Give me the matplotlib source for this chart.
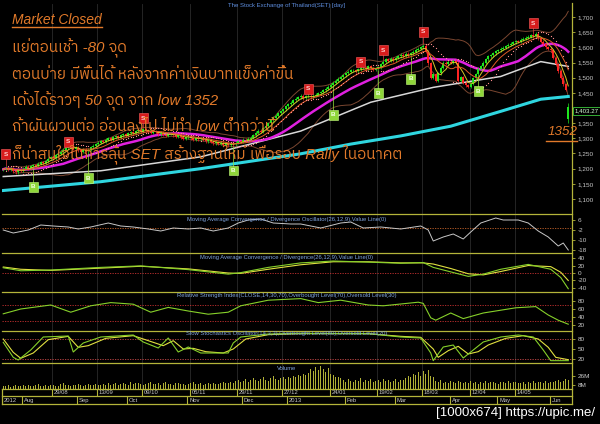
import numpy as np
import pandas as pd
import matplotlib
matplotlib.use("Agg")
import matplotlib.pyplot as plt
from matplotlib.lines import Line2D
from matplotlib import font_manager as fm
from matplotlib.ft2font import FT2Font

# ---------------- data ----------------
closes = [
    1198, 1203, 1196, 1201, 1192, 1188, 1197, 1194,
    1199, 1206, 1201, 1208,
    1212, 1209, 1216, 1221, 1218, 1224,
    1232, 1238, 1235, 1244, 1249, 1256,
    1262, 1268, 1276,
    1271, 1265, 1269, 1260, 1255, 1262, 1258, 1263,
    1270, 1275, 1281, 1286, 1291,
    1288, 1295, 1300, 1296, 1303, 1307, 1302, 1310,
    1314, 1309, 1316, 1320, 1317, 1323, 1326, 1321, 1330,
    1327, 1322, 1318, 1324, 1320, 1314, 1318, 1312, 1308, 1315, 1316,
    1311, 1306, 1310, 1304, 1299, 1303, 1307, 1301, 1296, 1300, 1297, 1301,
    1295, 1290, 1294, 1288, 1283, 1287, 1282, 1285, 1279, 1284, 1277, 1282, 1280,
    1286, 1291, 1288, 1295, 1293, 1299, 1302,
    1310, 1318, 1325, 1322, 1333, 1341, 1350, 1360,
    1368, 1375, 1383, 1390, 1396, 1405,
    1412, 1418, 1425, 1430, 1436, 1440,
    1432, 1438, 1440, 1436, 1441, 1443, 1449, 1452,
    1458, 1464, 1470, 1477, 1483, 1490,
    1496, 1502, 1508, 1514, 1519, 1525,
    1525, 1522, 1528, 1532,
    1533, 1528, 1537, 1531, 1526, 1530, 1535,
    1545, 1552, 1560,
    1556, 1562, 1558, 1566, 1570, 1575,
    1571, 1578, 1574, 1580,
    1586, 1592, 1596, 1601, 1605,
    1585, 1548, 1500, 1512, 1490,
    1515, 1532, 1550,
    1546, 1553, 1549, 1555, 1550,
    1490, 1502, 1483, 1475, 1470, 1480,
    1498, 1512, 1530,
    1538, 1550, 1561, 1570,
    1574, 1581, 1587, 1590, 1595,
    1599, 1603, 1608, 1612, 1617, 1620,
    1618, 1625, 1629, 1632, 1635,
    1640, 1637, 1645,
    1630, 1618, 1610,
    1600, 1596, 1590,
    1565, 1545, 1522,
    1500, 1478, 1460,
    1403.27,
]
last_open, last_high, last_low = 1365.0, 1418.0, 1352.0

volumes = [
    7, 6, 8, 5, 6, 9, 7, 6, 8, 7, 9, 6, 7, 8, 10, 7, 6, 8, 7, 9, 8, 7, 6, 10,
    12, 9, 8, 7, 9, 8, 10, 8, 7, 9, 11, 8, 9, 10, 8, 9,
    10, 9, 12, 8, 11, 13, 9, 10, 12, 11, 9, 14, 10, 12, 13, 11, 9, 10, 12, 15,
    11, 10, 13, 9, 12, 14, 10, 11, 9, 13, 12, 10, 11, 9, 10, 12, 14, 11, 10, 13,
    9, 11, 12, 10, 13, 11, 10, 12, 14, 12,
    13, 15, 12, 16, 18, 14, 17, 20, 15, 19, 22, 18, 16, 21, 24, 19, 17, 23, 26, 20, 18, 22, 25,
    20, 24, 22, 26, 25, 28, 27, 30, 29, 33, 40, 36, 44, 38, 46, 41, 35, 42, 30, 28, 25, 24, 22,
    18, 15, 20, 16, 14, 19, 17, 22, 15, 18, 16, 20, 14, 17, 19, 15, 21, 16, 18, 14, 17, 20, 15, 19, 18,
    22, 26, 24, 30, 28, 34, 27, 36, 30, 38, 26, 24,
    16, 14, 18, 12, 15, 13, 17, 14, 12, 16, 15, 13, 14, 12, 16, 13, 15, 11, 14, 13, 16, 12, 15, 14,
    13, 11, 15, 14, 12, 16, 13, 15, 14, 12, 13, 15, 11, 14, 12, 16, 13, 15, 14, 12, 17, 13, 15, 14,
    16, 18, 15, 17, 20, 19,
]

# long moving averages
ma_white_idx = [0, 39, 79, 119, 147, 172, 199, 215, 226]
ma_white_val = [1174, 1193, 1239, 1324, 1419, 1468, 1504, 1553, 1537]
ma_cyan_idx = [0, 39, 79, 119, 139, 159, 179, 199, 215, 226]
ma_cyan_val = [1128, 1157, 1200, 1249, 1281, 1308, 1340, 1389, 1429, 1438]

# signals
sell_idx = [1, 26, 56, 122, 143, 152, 168, 212]
sell_lvl = [1248, 1288, 1367, 1463, 1552, 1591, 1651, 1680]
buy_idx = [12, 34, 92, 132, 150, 163, 190]
buy_lvl = [1140, 1169, 1194, 1377, 1449, 1496, 1456]

# MACD oscillator
osc_idx = [0, 4, 10, 15, 20, 26, 30, 35, 42, 47, 52, 58, 63, 68, 74, 79, 84, 90, 94, 98,
           103, 108, 115, 119, 127, 135, 139, 144, 151, 159, 167, 170, 172, 176, 180, 184,
           187, 191, 197, 200, 206, 210, 214, 218, 222, 224, 226]
osc_val = [-2.0, -4.4, -2.0, 2.0, 1.2, 0.4, -1.2, 0.4, 3.6, 1.2, 0.4, -1.2, -2.8, -0.4, -1.2,
           -0.4, -2.8, -0.4, 3.6, 6.0, 6.8, 3.6, 2.8, 2.8, -0.4, 3.6, 4.4, -0.4, 0.4, -1.2,
           1.2, -2.0, -10.8, -7.6, -5.2, -9.2, -3.6, 3.6, 7.6, 6.0, 6.0, 3.6, -2.8, -7.6,
           -14.8, -12.4, -18.0]

# MACD and signal
macd_idx = [0, 7, 19, 39, 55, 74, 90, 95, 106, 119, 132, 146, 159, 168, 172, 179, 186, 192,
            199, 210, 219, 223, 226]
macd_val = [14, 6, 8, 15, 19, 9, -3, 1, 15, 27, 32, 29, 26, 28, 15, 3, -9, -3, 10, 23, 10, -12, -42]
sig_val = [16, 10, 7, 13, 18, 11, 0, -1, 10, 22, 30, 30, 27, 27, 24, 12, -2, -5, 4, 20, 17, 2, -20]

# RSI
rsi_idx = [0, 7, 19, 27, 35, 43, 52, 59, 66, 74, 82, 90, 95, 106, 119, 126, 135, 146, 152,
           166, 168, 171, 173, 179, 184, 192, 199, 205, 213, 218, 222, 226]
rsi_val = [48, 60, 70, 52, 68, 76, 72, 52, 64, 55, 47, 52, 68, 82, 86, 76, 82, 70, 68, 77, 74,
           38, 32, 50, 36, 50, 57, 63, 66, 45, 32, 22]

# Slow stochastics
stk_idx = [0, 4, 6, 11, 16, 26, 28, 32, 39, 52, 56, 62, 66, 70, 74, 79, 86, 90, 92, 95, 106,
           119, 146, 159, 167, 171, 172, 176, 180, 184, 188, 192, 199, 206, 212, 216, 219, 226]
stk_val = [70, 25, 17, 47, 86, 89, 41, 68, 86, 92, 71, 53, 83, 41, 56, 38, 38, 38, 68, 86, 95,
           97, 96, 86, 83, 38, 15, 56, 62, 23, 47, 71, 86, 92, 86, 47, 15, 15]
std_idx = [0, 4, 7, 12, 18, 26, 30, 34, 41, 52, 58, 64, 68, 72, 76, 81, 88, 92, 97, 106, 119,
           146, 159, 167, 172, 174, 178, 182, 186, 190, 194, 201, 208, 214, 218, 221, 226]
std_val = [80, 40, 22, 38, 78, 88, 55, 60, 82, 90, 75, 60, 75, 50, 52, 42, 38, 50, 80, 93, 96,
           96, 88, 85, 50, 25, 45, 58, 35, 42, 62, 82, 90, 80, 55, 25, 18]

# date axis
date_idx = [20, 38, 56, 75, 94, 112, 131, 150, 168, 187, 205]
date_lbl = ["29/08", "13/09", "09/10", "05/11", "29/11", "27/12", "24/01", "19/02", "18/03",
            "12/04", "14/05"]
month_idx = [0, 8, 30, 50, 74, 96, 114, 137, 157, 179, 198, 219]
month_lbl = ["2012", "Aug", "Sep", "Oct", "Nov", "Dec", "2013", "Feb", "Mar", "Apr", "May", "Jun"]

notes = [
    "แย่ตอนเช้า -80 จุด",
    "ตอนบ่าย มีพื้นได้ หลังจากค่าเงินบาทแข็งค่าขึ้น",
    "เด้งได้ราวๆ 50 จุด จาก low 1352",
    "ถ้าผันผวนต่อ อ่อนลงไป ไม่ทำ low ต่ำกว่านี้",
    "ก็น่าสนใจในการลุ้น SET สร้างฐานใหม่ เพื่อรอบ Rally ในอนาคต",
]

# ---------------- fonts ----------------
def find_thai():
    cands = sorted(fm.fontManager.ttflist,
                   key=lambda f: (0 if "thai" in f.name.lower() else 1, f.name))
    for f in cands:
        try:
            cm = FT2Font(f.fname).get_charmap()
        except Exception:
            continue
        if 0x0E01 in cm and 0x0E49 in cm and 0x0E35 in cm:
            return f.name
    return None

thai_font = find_thai()
plt.rcParams["font.family"] = ["Liberation Sans", "DejaVu Sans"]
plt.rcParams["axes.unicode_minus"] = False
thai_family = ["Liberation Sans"] + ([thai_font] if thai_font else []) + ["DejaVu Sans"]

# ---------------- styling ----------------
W, H = 600, 424
X0, X1 = 2, 572
OLIVE = "#b4b43a"
TICK = "#c8c8c8"
GRID = "#2b2b2b"
TITLE = "#7fa3dc"
ORANGE = "#e27a2a"
UPC, DNC = "#1ee61e", "#ff2424"

fig = plt.figure(figsize=(W / 100, H / 100), dpi=100, facecolor="black")
n = len(closes)
idx = np.arange(n)


def add_panel(top, bot):
    ax = fig.add_axes([X0 / W, 1 - bot / H, (X1 - X0) / W, (bot - top) / H])
    ax.set_facecolor("black")
    for s in ax.spines.values():
        s.set_visible(False)
    ax.set_xlim(-0.5, n + 0.5)
    ax.set_xticks([])
    ax.yaxis.tick_right()
    ax.tick_params(axis="y", color=OLIVE, labelcolor=TICK, length=2.5, width=0.6,
                   labelsize=4.6, pad=1.5)
    for g in date_idx:
        ax.axvline(g - 0.5, color=GRID, lw=0.6, zorder=0)
    return ax


def fline(xs, ys, **kw):
    fig.add_artist(Line2D([x / W for x in xs], [1 - y / H for y in ys],
                          transform=fig.transFigure, **kw))


# ---------------- main price panel ----------------
axm = add_panel(4, 214)
axm.set_ylim(1050.5, 1742.9)
pt = list(range(1100, 1701, 50))
axm.set_yticks(pt)
axm.set_yticklabels(["" if v == 1400 else f"{v:,}" for v in pt])

c = np.array(closes, dtype=float)
o = np.r_[c[0], c[:-1]]
o[-1] = last_open
up = c >= o
bh = np.maximum(o, c)
bl = np.minimum(o, c)
hi = bh + 5
lo = bl - 5
hi[-1] = last_high
lo[-1] = last_low
cols = np.where(up, UPC, DNC)

s = pd.Series(c)
mid = s.rolling(20, min_periods=5).mean()
sd = s.rolling(20, min_periods=5).std()
axm.plot(idx, mid + 2 * sd, color="#7a4630", lw=0.7, zorder=1)
axm.plot(idx, mid - 2 * sd, color="#7a4630", lw=0.7, zorder=1)
axm.plot(ma_cyan_idx, ma_cyan_val, color="#2fd6e0", lw=2.2, zorder=2)
axm.plot(ma_white_idx, ma_white_val, color="#d8d8d8", lw=1.1, zorder=2)
axm.plot(idx, s.rolling(25, min_periods=1).mean(), color="#e020e0", lw=1.8, zorder=2.5)

axm.vlines(idx, lo, hi, colors=cols, lw=0.5, zorder=3)
axm.bar(idx, np.maximum(bh - bl, 1.2), bottom=bl, width=0.62, color=cols, linewidth=0, zorder=3)

axm.plot(idx, s.rolling(5, min_periods=1).mean(), color="#d8c828", lw=0.7, zorder=4)
axm.plot(idx, s.rolling(10, min_periods=1).mean(), color="#e05a28", lw=0.7, zorder=4)


def psar(high, low, step=0.02, amax=0.2):
    m = len(high)
    out = np.zeros(m)
    bull, af, ep = True, step, high[0]
    out[0] = low[0]
    for t in range(1, m):
        p = out[t - 1]
        if bull:
            v = min(p + af * (ep - p), low[t - 1], low[max(t - 2, 0)])
            if low[t] < v:
                bull, v, ep, af = False, ep, low[t], step
            elif high[t] > ep:
                ep, af = high[t], min(af + step, amax)
        else:
            v = max(p + af * (ep - p), high[t - 1], high[max(t - 2, 0)])
            if high[t] > v:
                bull, v, ep, af = True, ep, high[t], step
            elif low[t] < ep:
                ep, af = low[t], min(af + step, amax)
        out[t] = v
    return out


axm.plot(idx[1:], psar(hi, lo)[1:], ls="none", marker="o", ms=0.9, color="#ff8f8f",
         markeredgewidth=0, zorder=4.5)

for i, lv in zip(sell_idx, sell_lvl):
    axm.vlines(i, hi[i], lv, colors="#e04040", lw=0.5, zorder=5)
    axm.text(i, lv, "S", fontsize=4.6, color="#ffd0d0", ha="center", va="center", zorder=6,
             fontweight="bold",
             bbox=dict(boxstyle="square,pad=0.35", fc="#d81c1c", ec="#ff6060", lw=0.4))
for i, lv in zip(buy_idx, buy_lvl):
    axm.vlines(i, lv, lo[i], colors="#9adf3c", lw=0.5, zorder=5)
    axm.text(i, lv, "B", fontsize=4.6, color="#f0ffe0", ha="center", va="center", zorder=6,
             fontweight="bold",
             bbox=dict(boxstyle="square,pad=0.35", fc="#8fd63a", ec="#c8ff80", lw=0.4))

# ---------------- MACD oscillator ----------------
axo = add_panel(214, 253)
axo.set_ylim(-20.4, 10.8)
axo.set_yticks([6, -2, -10, -18])
axo.axhline(0, color="#c8642a", lw=0.6, ls=(0, (1.5, 1.5)), zorder=1)
axo.plot(osc_idx, osc_val, color="#c8c8c8", lw=0.7, zorder=2)

# ---------------- MACD ----------------
axc = add_panel(253, 292)
axc.set_ylim(-50.7, 53.4)
axc.set_yticks([40, 20, 0, -20, -40])
axc.axhline(0, color="#c83232", lw=0.6, ls=(0, (1.5, 1.5)), zorder=1)
axc.plot(macd_idx, sig_val, color="#e0e040", lw=0.8, zorder=2)
axc.plot(macd_idx, macd_val, color="#86d02a", lw=0.8, zorder=3)

# ---------------- RSI ----------------
axr = add_panel(292, 331)
axr.set_ylim(5, 102.5)
axr.set_yticks([80, 60, 40, 20])
for lvl in (70, 30):
    axr.axhline(lvl, color="#c83232", lw=0.6, ls=(0, (1.5, 1.5)), zorder=1)
axr.plot(rsi_idx, rsi_val, color="#86d02a", lw=0.8, zorder=2)

# ---------------- Stochastics ----------------
axs = add_panel(331, 363)
axs.set_ylim(8, 104)
axs.set_yticks([80, 50, 20])
for lvl in (80, 20):
    axs.axhline(lvl, color="#c84848", lw=0.6, ls=(0, (1.5, 1.5)), zorder=1)
axs.plot(std_idx, std_val, color="#e0e040", lw=0.8, zorder=2)
axs.plot(stk_idx, stk_val, color="#86d02a", lw=0.8, zorder=3)

# ---------------- Volume ----------------
axv = add_panel(363, 389)
axv.set_ylim(0, 52)
axv.set_yticks([26, 8])
axv.set_yticklabels(["26M", "8M"])
axv.bar(idx, volumes, width=0.45, color="#b0b036", linewidth=0, zorder=2)

# ---------------- date axis ----------------
axd = fig.add_axes([X0 / W, 1 - 404 / H, (X1 - X0) / W, 15 / H])
axd.set_facecolor("black")
axd.set_xlim(-0.5, n + 0.5)
axd.set_ylim(0, 15)
axd.axis("off")
for i, lb in zip(date_idx, date_lbl):
    axd.vlines(i - 0.5, 8, 15, colors=OLIVE, lw=0.8)
    axd.text(i - 0.5 + 0.8, 11.3, lb, fontsize=4.2, color=TICK, ha="left", va="center")
for i, lb in zip(month_idx, month_lbl):
    axd.vlines(i - 0.5, 0, 8, colors=OLIVE, lw=0.8)
    axd.text(i - 0.5 + 0.8, 3.8, lb, fontsize=4.2, color=TICK, ha="left", va="center")

# ---------------- frame lines ----------------
for y in (214, 253, 292, 331, 363, 389, 396, 404):
    fline([X0, X1], [y, y], color=OLIVE, lw=0.9)
fline([X1, X1], [3, 404], color=OLIVE, lw=0.9)
fline([X0, X0], [389, 404], color=OLIVE, lw=0.9)

# ---------------- titles ----------------
cx = (X0 + X1) / 2 / W
fig.text(cx, 1 - 6 / H, "The Stock Exchange of Thailand(SET) [day]", fontsize=4.3,
         color="#5f8fe0", ha="center", va="center")
titles = [
    (219, "Moving Average Convergence / Divergence Oscillator(26,12,9),Value Line(0)"),
    (258, "Moving Average Convergence / Divergence(26,12,9),Value Line(0)"),
    (296, "Relative Strength Index(CLOSE,14,30,70),Overbought Level(70),Oversold Level(30)"),
    (334, "Slow Stochastics Oscillator(14,3,3),Overbought Level(80),Oversold Level(20)"),
    (368, "Volume"),
]
for y, t in titles:
    fig.text(cx, 1 - y / H, t, fontsize=4.2, color=TITLE, ha="center", va="center")

# last price box
fig.text(575 / W, 1 - 111 / H, f"{closes[-1]:,.2f}", fontsize=4.4, color="#d8ffd8",
         ha="left", va="center",
         bbox=dict(boxstyle="square,pad=0.25", fc="black", ec="#3cc83c", lw=0.6))

# ---------------- annotations ----------------
fig.text(12 / W, 1 - 20 / H, "Market Closed", fontsize=10, color=ORANGE, style="italic",
         ha="left", va="center", family=thai_family)
fline([12, 102], [27, 27], color=ORANGE, lw=1.0)
for y, t in zip([48, 75, 100, 127, 154], notes):
    fig.text(12 / W, 1 - y / H, t, fontsize=10.9, color=ORANGE, style="italic",
             ha="left", va="center", family=thai_family, zorder=10)
fig.text(548 / W, 1 - 132 / H, "1352", fontsize=9.6, color=ORANGE, style="italic",
         ha="left", va="center", zorder=10)
fline([546, 577], [141, 141], color=ORANGE, lw=1.0)

fig.text(595 / W, 1 - 413 / H, "[1000x674] https://upic.me/", fontsize=9.5, color="white",
         ha="right", va="center")

fig.savefig("out.png", dpi=100, facecolor="black")
